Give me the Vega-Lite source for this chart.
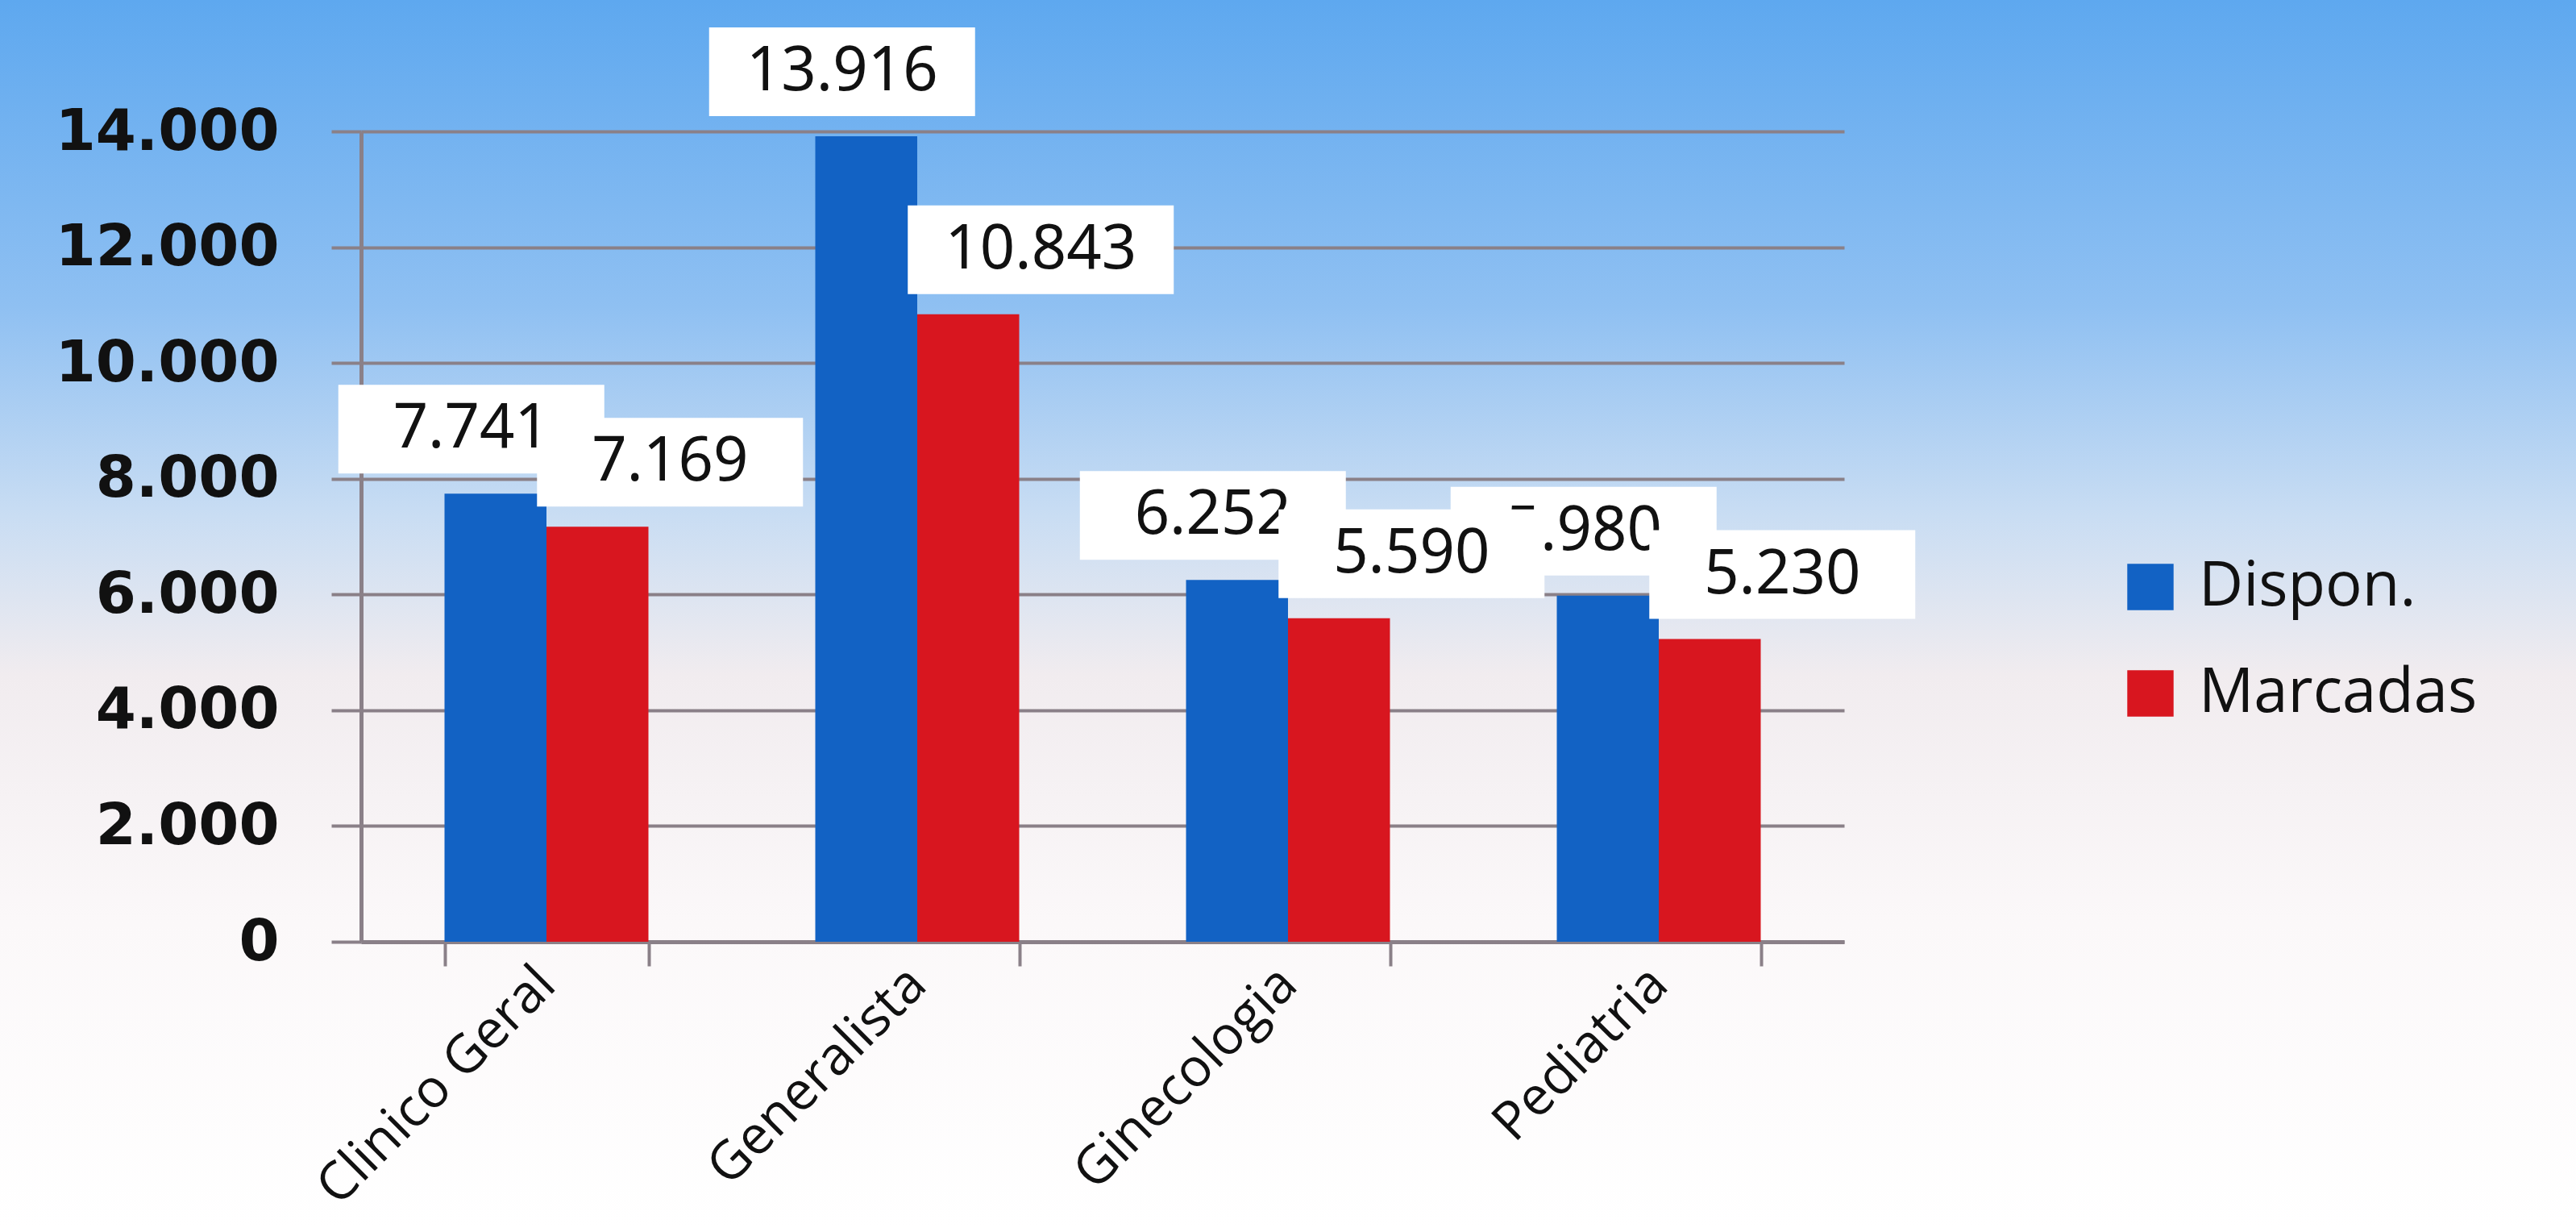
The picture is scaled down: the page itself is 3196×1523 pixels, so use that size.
{
  "$schema": "https://vega.github.io/schema/vega-lite/v6.json",
  "width": 3196,
  "height": 1523,
  "autosize": "none",
  "padding": 0,
  "background": "#ffffff",
  "config": {
    "view": {
      "stroke": null,
      "fill": {
        "gradient": "linear",
        "x1": 0, "y1": 0, "x2": 0, "y2": 1,
        "stops": [
          {"offset": 0, "color": "#5ea8ef"},
          {"offset": 0.25, "color": "#8fc0f2"},
          {"offset": 0.42, "color": "#c9ddf3"},
          {"offset": 0.55, "color": "#f1ecef"},
          {"offset": 0.75, "color": "#fbf8f9"},
          {"offset": 1, "color": "#ffffff"}
        ]
      }
    },
    "locale": {
      "number": {"decimal": ",", "thousands": ".", "grouping": [3], "currency": ["", ""]}
    }
  },
  "data": {
    "values": [
      {"especialidade": "Clinico Geral", "serie": "Dispon.", "valor": 7741},
      {"especialidade": "Clinico Geral", "serie": "Marcadas", "valor": 7169},
      {"especialidade": "Generalista", "serie": "Dispon.", "valor": 13916},
      {"especialidade": "Generalista", "serie": "Marcadas", "valor": 10843},
      {"especialidade": "Ginecologia", "serie": "Dispon.", "valor": 6252},
      {"especialidade": "Ginecologia", "serie": "Marcadas", "valor": 5590},
      {"especialidade": "Pediatria", "serie": "Dispon.", "valor": 5980},
      {"especialidade": "Pediatria", "serie": "Marcadas", "valor": 5230}
    ]
  },
  "encoding": {
    "x": {
      "field": "especialidade",
      "type": "nominal",
      "sort": null,
      "scale": {"range": [448, 2288], "paddingInner": 0.45, "paddingOuter": 0.225},
      "axis": {
        "title": null,
        "offset": -355,
        "domainColor": "#8a8088",
        "domainWidth": 5,
        "ticks": true,
        "tickBand": "extent",
        "tickColor": "#8a8088",
        "tickWidth": 4,
        "tickSize": 30,
        "labelAngle": -45,
        "labelAlign": "right",
        "labelBaseline": "middle",
        "labelFont": "Open Sans",
        "labelFontSize": 66,
        "labelColor": "#111111",
        "labelPadding": 12,
        "labelLimit": 0,
        "grid": false
      }
    },
    "xOffset": {"field": "serie", "type": "nominal", "sort": ["Dispon.", "Marcadas"], "scale": {"paddingInner": 0}},
    "y": {
      "field": "valor",
      "type": "quantitative",
      "scale": {"domain": [0, 14000], "range": [1168, 163], "nice": false},
      "axis": {
        "title": null,
        "offset": -448,
        "values": [0, 2000, 4000, 6000, 8000, 10000, 12000, 14000],
        "format": ",d",
        "domainColor": "#8a8088",
        "domainWidth": 5,
        "tickColor": "#8a8088",
        "tickWidth": 4,
        "tickSize": 37,
        "labelFont": "DejaVu Sans",
        "labelFontWeight": "bold",
        "labelFontSize": 72,
        "labelColor": "#111111",
        "labelPadding": 65,
        "labelLimit": 0,
        "grid": true,
        "gridColor": "#8a8088",
        "gridWidth": 4
      }
    }
  },
  "layer": [
    {
      "mark": {"type": "bar", "strokeWidth": 0},
      "encoding": {
        "color": {
          "field": "serie",
          "type": "nominal",
          "scale": {"domain": ["Dispon.", "Marcadas"], "range": ["#1262c4", "#d8161f"]},
          "legend": {
            "title": null,
            "orient": "none",
            "legendX": 2630,
            "legendY": 690,
            "symbolType": "square",
            "symbolSize": 3300,
            "symbolStrokeWidth": 0,
            "labelFont": "Open Sans",
            "labelFontSize": 76,
            "labelColor": "#111111",
            "labelOffset": 22,
            "labelLimit": 0,
            "rowPadding": 56
          }
        }
      }
    },
    {
      "transform": [{"filter": "datum.serie == 'Dispon.'"}],
      "mark": {"type": "point", "shape": "M-1.95,-1.35H1.35V-0.25H-1.95Z", "size": 40000, "filled": true, "color": "#ffffff", "opacity": 1, "strokeWidth": 0}
    },
    {
      "transform": [{"filter": "datum.serie == 'Dispon.'"}],
      "mark": {"type": "text", "font": "Noto Sans", "fontSize": 76, "dy": -80, "dx": -30, "baseline": "middle", "align": "center", "color": "#111111"},
      "encoding": {"text": {"field": "valor", "type": "quantitative", "format": ",d"}}
    },
    {
      "transform": [{"filter": "datum.serie == 'Marcadas'"}],
      "mark": {"type": "point", "shape": "M-0.75,-1.35H2.55V-0.25H-0.75Z", "size": 40000, "filled": true, "color": "#ffffff", "opacity": 1, "strokeWidth": 0}
    },
    {
      "transform": [{"filter": "datum.serie == 'Marcadas'"}],
      "mark": {"type": "text", "font": "Noto Sans", "fontSize": 76, "dy": -80, "dx": 90, "baseline": "middle", "align": "center", "color": "#111111"},
      "encoding": {"text": {"field": "valor", "type": "quantitative", "format": ",d"}}
    }
  ]
}
